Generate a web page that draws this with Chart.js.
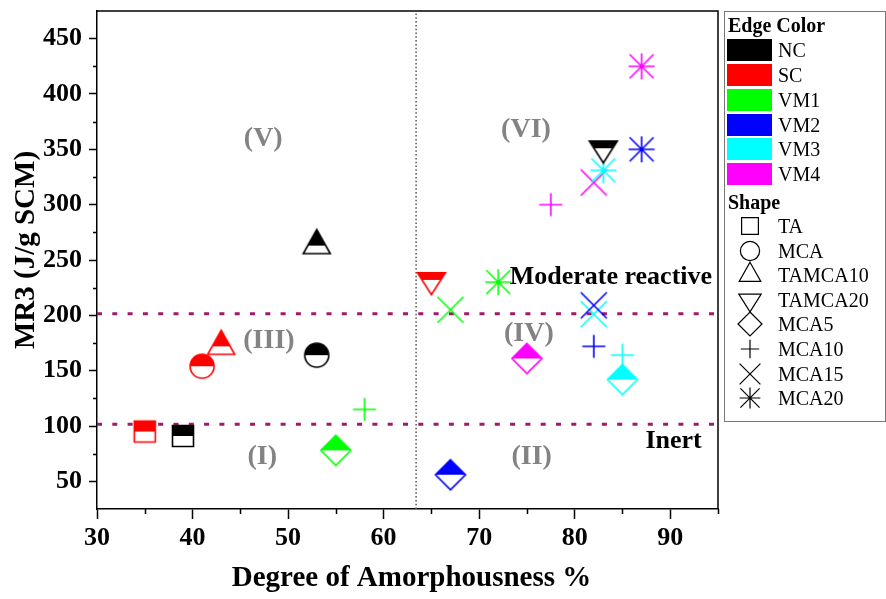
<!DOCTYPE html>
<html>
<head>
<meta charset="utf-8">
<title>MR3 vs Degree of Amorphousness</title>
<script src="https://cdn.jsdelivr.net/npm/chart.js@4.4.1/dist/chart.umd.min.js"></script>
<style>
  html, body { margin: 0; padding: 0; background: #fff; }
  #wrap { position: relative; width: 886px; height: 599px; font-family: "Liberation Serif", "Times New Roman", serif; color: #000; }
  #chart { position: absolute; left: 0; top: 0; }
  .legend-box { position: absolute; left: 724px; top: 11px; width: 162px; height: 411px; border: 1px solid #777; box-sizing: border-box; }
  .lg-head { position: absolute; left: 728px; height: 24px; line-height: 24px; font-size: 20px; font-weight: bold; white-space: nowrap; }
  .lg-text { position: absolute; left: 778px; height: 24px; line-height: 24px; font-size: 20px; white-space: nowrap; }
  .lg-swatch { position: absolute; left: 727px; width: 45px; height: 22px; }
  .lg-icon { position: absolute; }
</style>
</head>
<body>
<div id="wrap">
  <canvas id="chart" width="886" height="599"></canvas>
  <div id="legend"></div>
</div>
<script>
// edge colour groups and symbol shapes
const edgeGroups = ['NC', 'SC', 'VM1', 'VM2', 'VM3', 'VM4'];
const edgeColors = ['#000000', '#ff0000', '#00ff00', '#0000ff', '#00ffff', '#ff00ff'];
const shapeNames = ['TA', 'MCA', 'TAMCA10', 'TAMCA20', 'MCA5', 'MCA10', 'MCA15', 'MCA20'];

// one entry per plotted sample
const sampleGroup = [
  'NC', 'NC', 'NC', 'NC',
  'SC', 'SC', 'SC', 'SC',
  'VM1', 'VM1', 'VM1', 'VM1',
  'VM2', 'VM2', 'VM2', 'VM2',
  'VM3', 'VM3', 'VM3', 'VM3',
  'VM4', 'VM4', 'VM4', 'VM4'
];
const sampleShape = [
  'TA', 'MCA', 'TAMCA10', 'TAMCA20',
  'TA', 'MCA', 'TAMCA10', 'TAMCA20',
  'MCA5', 'MCA10', 'MCA15', 'MCA20',
  'MCA5', 'MCA10', 'MCA15', 'MCA20',
  'MCA5', 'MCA10', 'MCA15', 'MCA20',
  'MCA5', 'MCA10', 'MCA15', 'MCA20'
];
const amorphousness = [
  39, 53, 53, 83,
  35, 41, 43, 65,
  55, 58, 67, 72,
  67, 82, 82, 87,
  85, 85, 82, 83,
  75, 77.5, 82, 87
];
const mr3 = [
  91, 164, 263, 351,
  95, 154, 172, 232,
  78, 115, 205, 230,
  56, 172, 209, 350,
  142, 164, 201, 331,
  161, 300, 320, 425
];

const xTicks = [30, 40, 50, 60, 70, 80, 90];
const xMinorTicks = [35, 45, 55, 65, 75, 85, 95];
const yTicks = [50, 100, 150, 200, 250, 300, 350, 400, 450];
const yMinorTicks = [75, 125, 175, 225, 275, 325, 375, 425];

// class limits
const inertLimit = 101.5;
const reactiveLimit = 201.5;
const amorphousLimit = 63.4;

const serif = '"Liberation Serif", "Times New Roman", serif';
const openShapes = ['MCA10', 'MCA15', 'MCA20'];

function tracePath(ctx, shape, s) {
  ctx.beginPath();
  switch (shape) {
    case 'TA':
      ctx.rect(-10.5 * s, -10.5 * s, 21 * s, 21 * s);
      break;
    case 'MCA':
      ctx.arc(0, 0, 12 * s, 0, Math.PI * 2);
      break;
    case 'TAMCA10':
      ctx.moveTo(0, -16 * s);
      ctx.lineTo(13.5 * s, 8 * s);
      ctx.lineTo(-13.5 * s, 8 * s);
      ctx.closePath();
      break;
    case 'TAMCA20':
      ctx.moveTo(-14 * s, -7.3 * s);
      ctx.lineTo(14 * s, -7.3 * s);
      ctx.lineTo(0, 14.7 * s);
      ctx.closePath();
      break;
    case 'MCA5':
      ctx.moveTo(0, -15 * s);
      ctx.lineTo(15 * s, 0);
      ctx.lineTo(0, 15 * s);
      ctx.lineTo(-15 * s, 0);
      ctx.closePath();
      break;
    case 'MCA10':
      ctx.moveTo(-11.5 * s, 0); ctx.lineTo(11.5 * s, 0);
      ctx.moveTo(0, -11.5 * s); ctx.lineTo(0, 11.5 * s);
      break;
    case 'MCA15':
      ctx.moveTo(-13 * s, -13 * s); ctx.lineTo(13 * s, 13 * s);
      ctx.moveTo(13 * s, -13 * s); ctx.lineTo(-13 * s, 13 * s);
      break;
    case 'MCA20':
      ctx.moveTo(-13 * s, 0); ctx.lineTo(13 * s, 0);
      ctx.moveTo(0, -13 * s); ctx.lineTo(0, 13 * s);
      ctx.moveTo(-12 * s, -12 * s); ctx.lineTo(12 * s, 12 * s);
      ctx.moveTo(12 * s, -12 * s); ctx.lineTo(-12 * s, 12 * s);
      break;
  }
}

function drawMarker(ctx, shape, color, s, half, lw) {
  ctx.save();
  ctx.lineWidth = lw;
  ctx.strokeStyle = color;
  if (!openShapes.includes(shape)) {
    tracePath(ctx, shape, s);
    ctx.fillStyle = '#fff';
    ctx.fill();
    if (half) {
      ctx.save();
      ctx.beginPath();
      ctx.rect(-30, -30, 60, 30);
      ctx.clip();
      tracePath(ctx, shape, s);
      ctx.fillStyle = color;
      ctx.fill();
      ctx.restore();
    }
  }
  tracePath(ctx, shape, s);
  ctx.stroke();
  ctx.restore();
}

const markerCache = {};
function markerImage(shape, color) {
  const key = shape + color;
  if (!markerCache[key]) {
    const c = document.createElement('canvas');
    c.width = 40;
    c.height = 40;
    const ctx = c.getContext('2d');
    ctx.translate(20, 20);
    drawMarker(ctx, shape, color, 1, true, 1.6);
    markerCache[key] = c;
  }
  return markerCache[key];
}

// one scatter dataset per edge colour group
const datasets = edgeGroups.map((g, gi) => {
  const idx = sampleGroup.map((v, i) => v === g ? i : -1).filter(i => i >= 0);
  return {
    label: g,
    type: 'scatter',
    order: 0,
    data: idx.map(i => ({ x: amorphousness[i], y: mr3[i] })),
    pointStyle: idx.map(i => markerImage(sampleShape[i], edgeColors[gi])),
    pointRadius: 10,
    pointHoverRadius: 10,
    showLine: false
  };
});

function limitLine(points, color, width, dash) {
  return {
    type: 'line',
    order: 10,
    data: points,
    borderColor: color,
    borderWidth: width,
    borderDash: dash,
    pointRadius: 0,
    fill: false,
    showLine: true
  };
}
datasets.push(limitLine([{ x: 30, y: inertLimit }, { x: 95, y: inertLimit }], '#9e1a6a', 3, [5, 10.3]));
datasets.push(limitLine([{ x: 30, y: reactiveLimit }, { x: 95, y: reactiveLimit }], '#9e1a6a', 3, [5, 10.3]));
datasets.push(limitLine([{ x: amorphousLimit, y: 25 }, { x: amorphousLimit, y: 475 }], '#555555', 1.5, [1.5, 2.3]));

const regionNotes = [
  { text: '(V)', x: 47.4, y: 360 },
  { text: '(VI)', x: 74.9, y: 367.5 },
  { text: '(III)', x: 48.0, y: 177.3 },
  { text: '(IV)', x: 75.2, y: 183.3 },
  { text: '(I)', x: 47.3, y: 72.5 },
  { text: '(II)', x: 75.5, y: 72.5 }
];

const decorations = {
  id: 'decorations',
  beforeDatasetsDraw(chart) {
    const { ctx, scales: { x, y } } = chart;
    ctx.save();
    ctx.fillStyle = '#838383';
    ctx.font = 'bold 28px ' + serif;
    ctx.textAlign = 'center';
    ctx.textBaseline = 'middle';
    regionNotes.forEach(n => ctx.fillText(n.text, x.getPixelForValue(n.x), y.getPixelForValue(n.y)));
    ctx.restore();
  },
  afterDraw(chart) {
    const { ctx, chartArea: a, scales: { x, y } } = chart;
    ctx.save();
    // top and right frame
    ctx.strokeStyle = '#000';
    ctx.lineWidth = 1.5;
    ctx.beginPath();
    ctx.moveTo(a.left, a.top);
    ctx.lineTo(a.right, a.top);
    ctx.lineTo(a.right, a.bottom);
    ctx.stroke();
    // minor ticks
    ctx.beginPath();
    xMinorTicks.forEach(v => {
      const px = Math.round(x.getPixelForValue(v)) + 0.5;
      ctx.moveTo(px, a.bottom);
      ctx.lineTo(px, a.bottom + 5);
    });
    yMinorTicks.forEach(v => {
      const py = Math.round(y.getPixelForValue(v)) + 0.5;
      ctx.moveTo(a.left, py);
      ctx.lineTo(a.left - 4, py);
    });
    ctx.stroke();

    // class names
    ctx.fillStyle = '#000';
    ctx.font = 'bold 26px ' + serif;
    ctx.textBaseline = 'middle';
    ctx.textAlign = 'left';
    ctx.fillText('Moderate reactive', x.getPixelForValue(73.2), y.getPixelForValue(234.2));
    ctx.fillText('Inert', x.getPixelForValue(87.4), y.getPixelForValue(86));

    // axis titles
    ctx.font = 'bold 29px ' + serif;
    ctx.textAlign = 'center';
    ctx.fillText('Degree of Amorphousness %', (a.left + a.right) / 2 + 4, a.bottom + 70);
    ctx.translate(27, 250);
    ctx.rotate(-Math.PI / 2);
    ctx.fillText('MR3 (J/g SCM)', 0, 0);
    ctx.restore();
  }
};

const tickFont = { family: serif, size: 26, weight: 'bold' };

new Chart(document.getElementById('chart'), {
  type: 'scatter',
  data: { datasets: datasets },
  options: {
    responsive: false,
    animation: false,
    devicePixelRatio: 1,
    layout: { padding: { left: 0, right: 168, top: 10, bottom: 0 } },
    plugins: {
      legend: { display: false },
      tooltip: { enabled: false }
    },
    scales: {
      x: {
        type: 'linear',
        min: 30,
        max: 95,
        afterBuildTicks: s => { s.ticks = xTicks.map(v => ({ value: v })); },
        afterFit: s => { s.height = 90; s.paddingLeft = 0; s.paddingRight = 0; },
        grid: { drawOnChartArea: false, drawTicks: true, tickLength: 10, tickWidth: 1.5, tickColor: '#000' },
        border: { display: true, color: '#000', width: 1.5 },
        ticks: { color: '#000', font: tickFont, padding: 4, maxRotation: 0, autoSkip: false }
      },
      y: {
        type: 'linear',
        min: 25,
        max: 475,
        afterBuildTicks: s => { s.ticks = yTicks.map(v => ({ value: v })); },
        afterFit: s => { s.width = 97; s.paddingTop = 0; s.paddingBottom = 0; },
        grid: { drawOnChartArea: false, drawTicks: true, tickLength: 8, tickWidth: 1.5, tickColor: '#000' },
        border: { display: true, color: '#000', width: 1.5 },
        ticks: { color: '#000', font: tickFont, padding: 7, autoSkip: false }
      }
    }
  },
  plugins: [decorations]
});

// legend (html)
const legend = document.getElementById('legend');
let html = '<div class="legend-box"></div>';
html += '<div class="lg-head" style="top:13px">Edge Color</div>';
edgeGroups.forEach((g, i) => {
  const cy = 50.2 + i * 24.8;
  html += `<div class="lg-swatch" style="top:${cy - 11}px;background:${edgeColors[i]}"></div>`;
  html += `<div class="lg-text" style="top:${cy - 12}px">${g}</div>`;
});
html += '<div class="lg-head" style="top:190px">Shape</div>';
shapeNames.forEach((s, i) => {
  const cy = 226 + i * 24.6;
  html += `<canvas class="lg-icon" id="icon${i}" width="30" height="30" style="left:735px;top:${Math.round(cy - 15)}px"></canvas>`;
  html += `<div class="lg-text" style="top:${cy - 12}px">${s}</div>`;
});
legend.innerHTML = html;
shapeNames.forEach((s, i) => {
  const ctx = document.getElementById('icon' + i).getContext('2d');
  ctx.translate(15, 15);
  drawMarker(ctx, s, '#000', 0.8, false, 1.2);
});
</script>
</body>
</html>
